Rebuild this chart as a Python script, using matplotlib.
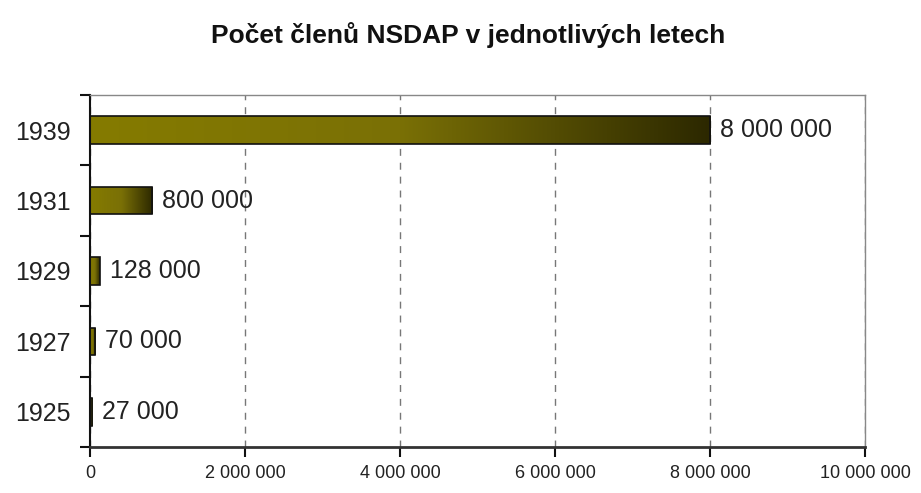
import numpy as np
import matplotlib
matplotlib.use("Agg")
import matplotlib.pyplot as plt
from matplotlib.colors import LinearSegmentedColormap

plt.rcParams['font.family'] = ['Liberation Sans', 'DejaVu Sans']

years = ['1925', '1927', '1929', '1931', '1939']
members = [27000, 70000, 128000, 800000, 8000000]
value_labels = ['27 000', '70 000', '128 000', '800 000', '8 000 000']
xticks = [0, 2000000, 4000000, 6000000, 8000000, 10000000]
xtick_labels = ['0', '2 000 000', '4 000 000', '6 000 000', '8 000 000', '10 000 000']

fig = plt.figure(figsize=(9.21, 4.93), dpi=100)
ax = fig.add_axes([90 / 921, 1 - 447 / 493, 775 / 921, 352 / 493])

cmap = LinearSegmentedColormap.from_list('olive', ['#857b00', '#7a7006', '#2c2800'])
grad = np.linspace(0, 1, 256).reshape(1, -1)

pos = np.arange(len(years))
bh = 0.39
bars = ax.barh(pos, members, height=bh, color='none', edgecolor='#111111', linewidth=1.2, zorder=3)
for b in bars:
    x0, y0 = b.get_x(), b.get_y()
    w, h = b.get_width(), b.get_height()
    im = ax.imshow(grad, cmap=cmap, aspect='auto', extent=[x0, x0 + w, y0, y0 + h],
                   interpolation='bilinear', zorder=2)
    im.set_clip_path(b)

for p, v, lab in zip(pos, members, value_labels):
    ax.annotate(lab, (v, p), xytext=(7, 0), textcoords='offset points',
                va='center', ha='left', fontsize=18, color='#222222', zorder=4)

ax.set_xlim(0, 10000000)
ax.set_ylim(-0.5, len(years) - 0.5)
ax.set_xticks(xticks)
ax.set_xticklabels(xtick_labels, fontsize=13, color='#222222')
ax.set_yticks(pos)
ax.set_yticklabels(years, fontsize=18, color='#222222')
ax.set_yticks(np.arange(-0.5, len(years), 1), minor=True)
ax.tick_params(axis='y', which='major', length=0, pad=14)
ax.tick_params(axis='y', which='minor', length=7, width=1.5, color='#111111')
ax.tick_params(axis='x', length=7, width=1.5, color='#111111', pad=6)

ax.grid(axis='x', linestyle=(0, (5, 5)), color='#777777', linewidth=1, zorder=1)
for side in ['top', 'right']:
    ax.spines[side].set_color('#888888')
    ax.spines[side].set_linewidth(1)
ax.spines['left'].set_color('#111111')
ax.spines['left'].set_linewidth(1.5)
ax.spines['bottom'].set_color('#333333')
ax.spines['bottom'].set_linewidth(2)

fig.text(468 / 921, 1 - 35 / 493, 'Počet členů NSDAP v jednotlivých letech',
         ha='center', va='center', fontsize=19, fontweight='bold', color='#111111')

fig.savefig('out.png', dpi=100)
